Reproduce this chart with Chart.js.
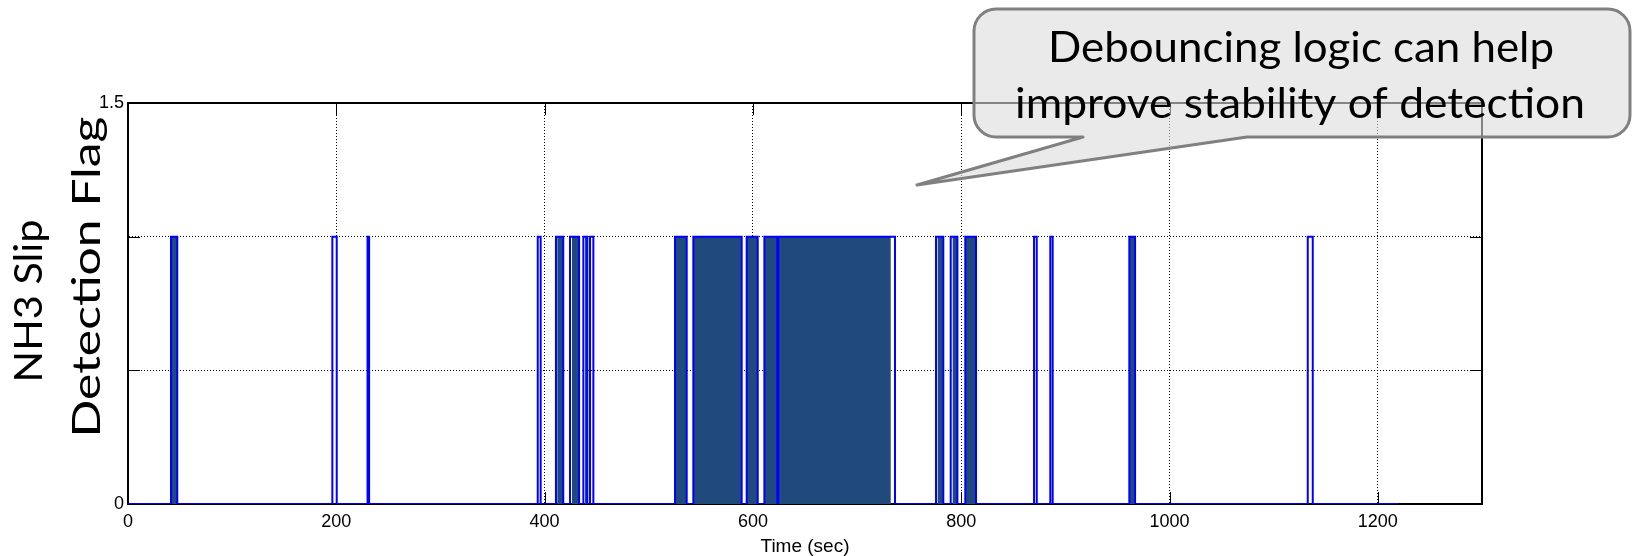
<!DOCTYPE html>
<html>
<head>
<meta charset="utf-8">
<script src="https://cdn.jsdelivr.net/npm/chart.js@4.4.1/dist/chart.umd.min.js"></script>
<style>
  html, body { margin: 0; padding: 0; background: #fff; }
  canvas { display: block; }
</style>
</head>
<body>
<canvas id="flagChart" width="1637" height="556"></canvas>
<script>
// NH3 slip detection flag vs time — windows where the flag is high (sec)
const pulseStart = [41.3, 196.2, 230.0, 393.4, 410.9, 424.4, 437.2, 443.6, 525.2, 542.8, 594.0, 611.0, 624.4, 775.8, 789.9, 803.9, 869.9, 885.5, 961.4, 1132.7];
const pulseEnd   = [47.3, 200.4, 231.5, 396.2, 417.9, 433.1, 441.0, 446.8, 536.4, 589.2, 604.6, 623.4, 736.4, 782.8, 796.3, 814.2, 872.5, 887.8, 966.9, 1137.5];
// chattering stretches (flag toggles too fast to resolve -> solid block)
const chatterStart = [42.2, 412.2, 426.3, 438.8, 525.2, 542.8, 594.0, 611.0, 624.4, 777.4, 791.8, 803.9, 961.4];
const chatterEnd   = [47.3, 417.9, 433.1, 441.0, 536.4, 589.2, 604.6, 623.4, 732.3, 782.8, 796.3, 814.2, 966.9];
const traceEnd = 1219.4;

const xTicks = [0, 200, 400, 600, 800, 1000, 1200];
const yTicks = [0, 0.5, 1, 1.5];
const yTickLabels = ['0', '', '', '1.5'];

const yTitleLines = ['NH3 Slip', 'Detection Flag'];
const calloutLines = ['Debouncing logic can help', 'improve stability of detection'];

// turn on/off windows into step points
function stepPoints(starts, ends, last) {
  const pts = [{ x: 0, y: 0 }];
  starts.forEach((s, i) => {
    pts.push({ x: s, y: 0 }, { x: s, y: 1 }, { x: ends[i], y: 1 }, { x: ends[i], y: 0 });
  });
  if (last != null) pts.push({ x: last, y: 0 });
  return pts;
}

function fitText(ctx, text, width) {
  const w = ctx.measureText(text).width;
  ctx.scale(width / w, 1);
  ctx.fillText(text, 0, 0);
}

const framePlugin = {
  id: 'frame',
  beforeDatasetsDraw(chart) {
    const { ctx, chartArea: a, scales: { x, y } } = chart;
    ctx.save();
    ctx.strokeStyle = '#000';
    ctx.lineWidth = 1;
    // inward tick marks
    xTicks.forEach(v => {
      const px = Math.round(x.getPixelForValue(v)) + 0.5;
      ctx.beginPath();
      ctx.moveTo(px, a.bottom); ctx.lineTo(px, a.bottom - 12);
      ctx.moveTo(px, a.top); ctx.lineTo(px, a.top + 12);
      ctx.stroke();
    });
    yTicks.forEach(v => {
      const py = Math.round(y.getPixelForValue(v)) + 0.5;
      ctx.beginPath();
      ctx.moveTo(a.left, py); ctx.lineTo(a.left + 12, py);
      ctx.moveTo(a.right, py); ctx.lineTo(a.right - 12, py);
      ctx.stroke();
    });
    ctx.lineWidth = 2;
    ctx.strokeRect(a.left, a.top, a.right - a.left, a.bottom - a.top);
    ctx.restore();
  }
};

const annotPlugin = {
  id: 'annot',
  afterDraw(chart) {
    const ctx = chart.ctx;
    ctx.save();
    // y axis title, two rotated lines
    ctx.fillStyle = '#000';
    ctx.font = '38px Lato';
    ctx.textAlign = 'center';
    ctx.textBaseline = 'alphabetic';
    [[42, 301, 163], [100, 277, 321]].forEach(([bx, cy, w], i) => {
      ctx.save();
      ctx.translate(bx, cy);
      ctx.rotate(-Math.PI / 2);
      fitText(ctx, yTitleLines[i], w);
      ctx.restore();
    });

    // callout box
    const L = 974, R = 1630, T = 9, B = 137, r = 22;
    ctx.beginPath();
    ctx.moveTo(L + r, T);
    ctx.lineTo(R - r, T);
    ctx.arcTo(R, T, R, T + r, r);
    ctx.lineTo(R, B - r);
    ctx.arcTo(R, B, R - r, B, r);
    ctx.lineTo(1247, B);
    ctx.lineTo(917, 185);
    ctx.lineTo(1083, B);
    ctx.lineTo(L + r, B);
    ctx.arcTo(L, B, L, B - r, r);
    ctx.lineTo(L, T + r);
    ctx.arcTo(L, T, L + r, T, r);
    ctx.closePath();
    ctx.fillStyle = 'rgba(220,220,220,0.6)';
    ctx.fill();
    ctx.strokeStyle = '#808080';
    ctx.lineWidth = 3;
    ctx.lineJoin = 'round';
    ctx.stroke();

    ctx.fillStyle = '#000';
    ctx.font = '42px Lato';
    [[1301, 62, 506], [1300, 118, 570]].forEach(([cx, by, w], i) => {
      ctx.save();
      ctx.translate(cx, by);
      fitText(ctx, calloutLines[i], w);
      ctx.restore();
    });
    ctx.restore();
  }
};

const tickFont = { family: "'Liberation Sans', Arial, sans-serif", size: 18 };

new Chart(document.getElementById('flagChart'), {
  type: 'line',
  data: {
    datasets: [
      {
        label: 'flag',
        data: stepPoints(pulseStart, pulseEnd, traceEnd),
        borderColor: '#0000ff',
        borderWidth: 2,
        pointRadius: 0,
        fill: false,
        tension: 0,
        order: 1
      },
      {
        label: 'chatter',
        data: stepPoints(chatterStart, chatterEnd, null),
        borderWidth: 0,
        borderColor: 'rgba(0,0,0,0)',
        backgroundColor: '#1f4a7b',
        pointRadius: 0,
        fill: 'origin',
        tension: 0,
        order: 2
      }
    ]
  },
  options: {
    responsive: false,
    animation: false,
    layout: { padding: { left: 0, right: 155, top: 103, bottom: 0 } },
    plugins: { legend: { display: false }, tooltip: { enabled: false } },
    scales: {
      x: {
        type: 'linear',
        min: 0,
        max: 1300,
        afterBuildTicks: s => { s.ticks = xTicks.map(v => ({ value: v })); },
        afterFit: s => { s.height = 52; },
        ticks: { color: '#000', font: tickFont, padding: 7, maxRotation: 0, callback: v => String(v) },
        grid: { color: '#000', lineWidth: 1, drawTicks: false },
        border: { color: '#000', width: 1, dash: [1, 2] },
        title: { display: true, text: 'Time (sec)', color: '#000', font: { family: tickFont.family, size: 19 }, padding: { top: 0, bottom: -2 } }
      },
      y: {
        min: 0,
        max: 1.5,
        afterBuildTicks: s => { s.ticks = yTicks.map(v => ({ value: v })); },
        afterFit: s => { s.width = 128; },
        ticks: { color: '#000', font: tickFont, padding: 4, callback: (v, i) => yTickLabels[i] },
        grid: { color: '#000', lineWidth: 1, drawTicks: false },
        border: { color: '#000', width: 1, dash: [1, 2] }
      }
    }
  },
  plugins: [framePlugin, annotPlugin]
});
</script>
</body>
</html>
